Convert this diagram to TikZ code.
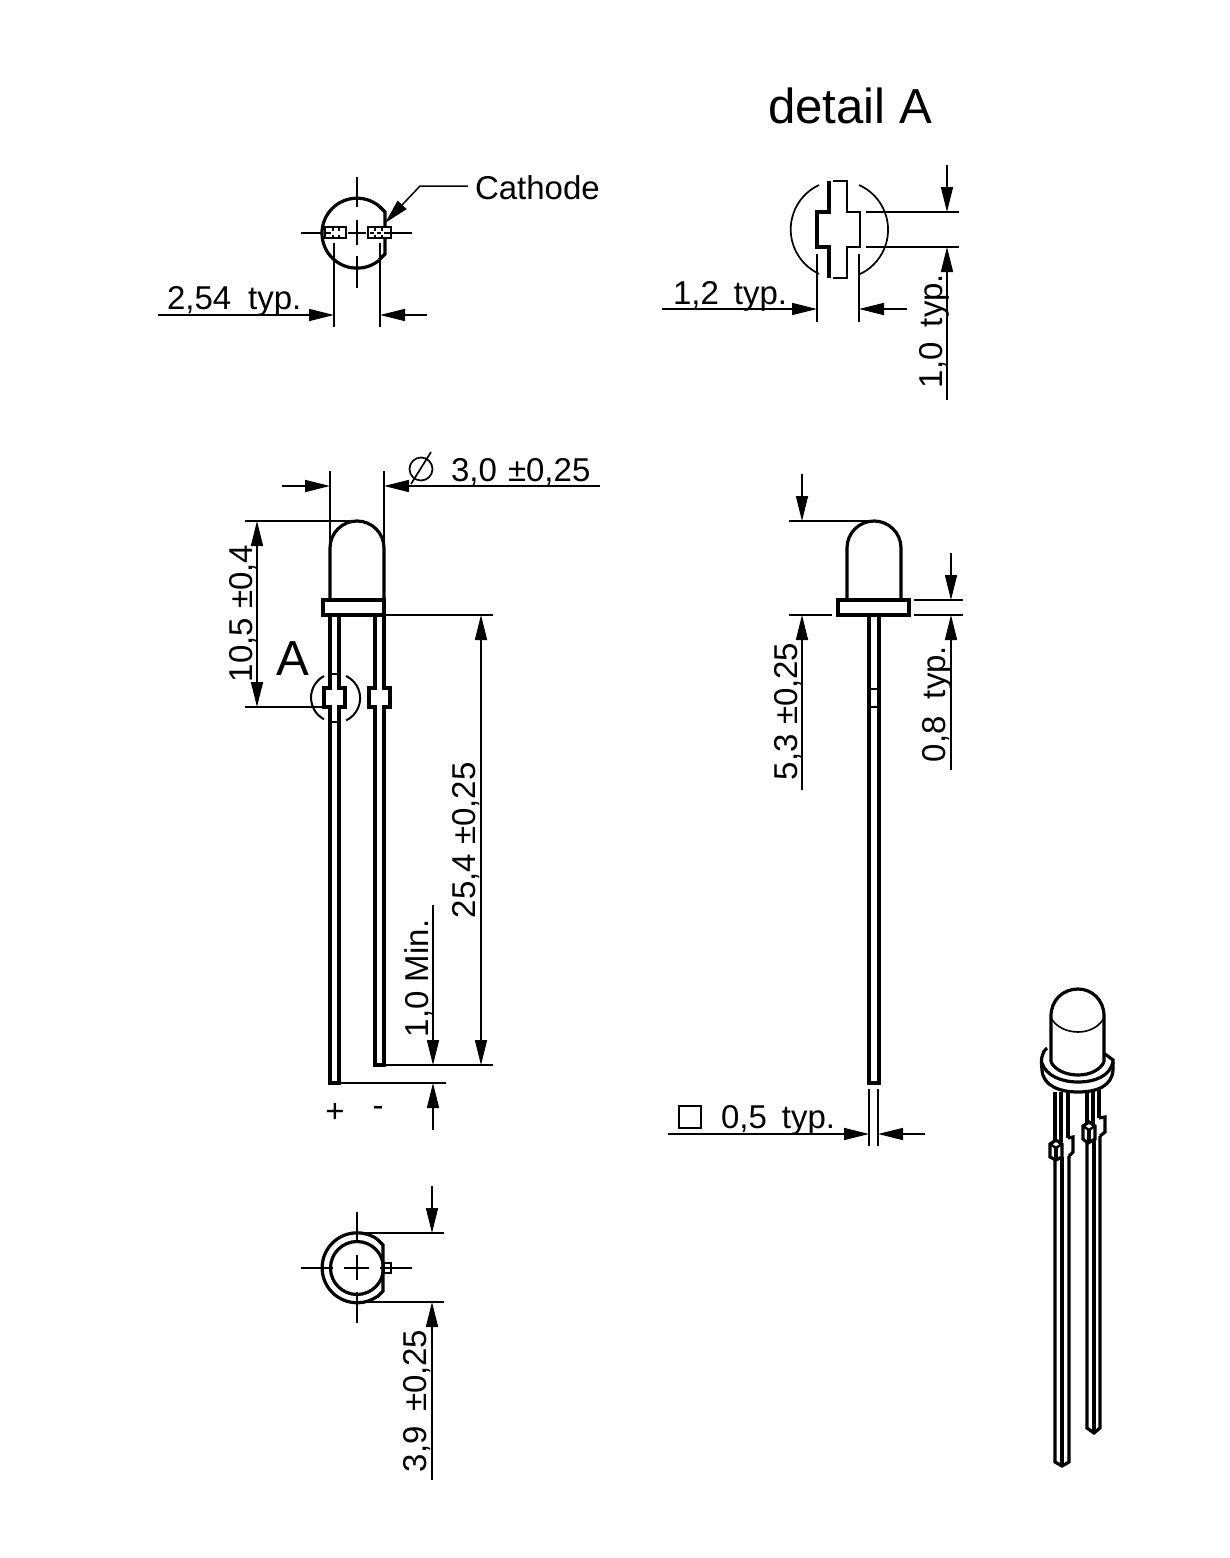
\documentclass[tikz,border=0pt]{standalone}
\usepackage{fontspec}
\setmainfont{Liberation Sans}
\usetikzlibrary{arrows.meta}
\tikzset{
  x=1pt,y=-1pt,
  thick line/.style={line width=3.2pt,line join=miter},
  medium line/.style={line width=2pt},
  dim line/.style={line width=1.5pt},
  dim arrow/.style={line width=1.5pt,-{Triangle[length=25pt,width=12pt]}},
  dim both/.style={line width=1.5pt,{Triangle[length=25pt,width=12pt]}-{Triangle[length=25pt,width=12pt]}},
  label text/.style={inner sep=0pt,outer sep=0pt,font=\fontsize{33}{33}\selectfont},
  big text/.style={inner sep=0pt,outer sep=0pt,font=\fontsize{49.2}{49.2}\selectfont},
  lab/.style={label text,anchor=base west},
  vlab/.style={label text,anchor=base west,rotate=90},
}
\begin{document}
\begin{tikzpicture}
\useasboundingbox (0,0) rectangle (1229,1558);
\fill[white] (0,0) rectangle (1229,1558);

% ---------- title
\node[big text,anchor=base west] (detailtitle) at (768,123) {detail A};

% ---------- top view (left)
\draw[thick line] (379,206) arc[start angle=-51,end angle=-309,radius=35];
\draw[thick line] (379,206) -- (385,212) -- (385,254) -- (379,260);
\foreach \a/\b in {177/207,220/245,256/288}{\draw[dim line] (357,\a) -- (357,\b);}
\foreach \a/\b in {301/323,348/366,392/412}{\draw[dim line] (\a,233) -- (\b,233);}
\draw[line width=2.6pt,fill=white] (325,227) rectangle (346,238);
\draw[line width=2.6pt,fill=white] (368,227) rectangle (391,238);
\foreach \a in {333,339,375,382}{\draw[line width=1.8pt] (\a,228) -- (\a,231) (\a,235) -- (\a,238);}
\draw[dim line] (326,233) -- (331,233) (370,233) -- (374,233) (377,233) -- (381,233) (384,233) -- (390,233);
\draw[dim line] (334,243) -- (334,327);
\draw[dim line] (380,243) -- (380,327);
\coordinate (a1) at (158,315); \coordinate (a2) at (334,315);
\coordinate (a3) at (427,315); \coordinate (a4) at (380,315);
\draw[dim arrow] (a1) -- (a2);
\draw[dim arrow] (a3) -- (a4);
\node[lab] (t254) at (167,309) {2,54\hspace{17pt}typ.};
\node[lab] (tcath) at (475,199) {Cathode};
\coordinate (c1) at (468,186); \coordinate (c2) at (420,186); \coordinate (c3) at (385,223);
\draw[dim arrow] (c1) -- (c2) -- (c3);

% ---------- detail A
\draw[line width=1.7pt] (819,185) arc[start angle=-115,end angle=-245,radius=49];
\draw[line width=1.7pt] (859,185) arc[start angle=-66,end angle=66,radius=49];
\draw[thick line] (829,181) -- (829,212) -- (817,212) -- (817,247) -- (829,247) -- (829,278);
\draw[line width=2.4pt] (833,181) -- (847,181) -- (847,212) -- (860,212) -- (860,247) -- (847,247) -- (847,278) -- (833,278);
\draw[dim line] (866,212) -- (959,212);
\draw[dim line] (866,247) -- (959,247);
\coordinate (b1) at (947,165); \coordinate (b2) at (947,212);
\coordinate (b3) at (947,400); \coordinate (b4) at (947,247);
\draw[dim arrow] (b1) -- (b2);
\draw[dim arrow] (b3) -- (b4);
\draw[dim line] (817,254) -- (817,322);
\draw[dim line] (859,254) -- (859,322);
\coordinate (b5) at (662,309); \coordinate (b6) at (817,309);
\coordinate (b7) at (907,309); \coordinate (b8) at (859,309);
\draw[dim arrow] (b5) -- (b6);
\draw[dim arrow] (b7) -- (b8);
\node[lab] (t12) at (673,304) {1,2\hspace{15pt}typ.};
\node[vlab] (t10) at (942,388) {1,0\hspace{15pt}typ.};

% ---------- front view LED
\draw[thick line] (330,600) -- (330,548) arc[start angle=180,end angle=360,radius=27] -- (384,600);
\draw[thick line] (323,600) rectangle (384,615);
\draw[thick line] (330,615) -- (330,688) -- (324,688) -- (324,707) -- (330,707) -- (330,1083) -- (339,1083) -- (339,707) -- (345,707) -- (345,688) -- (339,688) -- (339,615);
\draw[thick line] (375,615) -- (375,688) -- (369,688) -- (369,707) -- (375,707) -- (375,1065) -- (384,1065) -- (384,707) -- (390,707) -- (390,688) -- (384,688) -- (384,615);
\draw[line width=1.3pt] (331,674) -- (338,674) (331,722) -- (338,722);
\draw[medium line] (324,676) arc[start angle=-118,end angle=-242,radius=24.5];
\draw[medium line] (346,676) arc[start angle=-65,end angle=65,radius=24.5];
\draw[dim line] (330,471) -- (330,546);
\draw[dim line] (384,471) -- (384,600);
\coordinate (d1) at (282,486); \coordinate (d2) at (330,486);
\coordinate (d3) at (600,486); \coordinate (d4) at (384,486);
\draw[dim arrow] (d1) -- (d2);
\draw[dim arrow] (d3) -- (d4);
\draw[line width=1.7pt] (421,469) circle[radius=11.5];
\draw[line width=1.7pt] (411,484) -- (431,452);
\node[lab] (t30) at (451,481) {3,0 \hspace{2pt}±0,25};
\draw[dim line] (245,521) -- (350,521);
\draw[dim line] (245,707) -- (323,707);
\coordinate (d5) at (257,521); \coordinate (d6) at (257,707);
\draw[dim both] (d5) -- (d6);
\node[vlab] (t105) at (252,682) {10,5 ±0,4};
\node[big text,anchor=base west] (tA) at (276,675) {A};
\draw[dim line] (384,615) -- (493,615);
\draw[dim line] (384,1065) -- (493,1065);
\coordinate (d7) at (481,615); \coordinate (d8) at (481,1065);
\draw[dim both] (d7) -- (d8);
\node[vlab] (t254b) at (475,918) {25,4 ±0,25};
\node[vlab] (t1min) at (428,1037) {1,0 Min.};
\draw[dim line] (339,1083) -- (446,1083);
\coordinate (d9) at (433,905); \coordinate (d10) at (433,1065);
\coordinate (d11) at (433,1130); \coordinate (d12) at (433,1083);
\draw[dim arrow] (d9) -- (d10);
\draw[dim arrow] (d11) -- (d12);
\node[inner sep=0pt,font=\fontsize{33}{33}\selectfont] (tplus) at (335,1113) {+};
\node[inner sep=0pt,font=\fontsize{33}{33}\selectfont] (tminus) at (378,1111) {-};

% ---------- bottom view
\draw[thick line] (377,1239) arc[start angle=-55.4,end angle=-304.6,radius=35];
\draw[thick line] (377,1239) -- (383,1245) -- (383,1291) -- (377,1297);
\draw[thick line] (357,1268) circle[radius=26.5];
\draw[line width=2.6pt] (383,1263) rectangle (391,1273);
\foreach \a/\b in {1212/1240,1255/1280,1292/1323}{\draw[dim line] (357,\a) -- (357,\b);}
\foreach \a/\b in {301/333,344/369,380/412}{\draw[dim line] (\a,1268) -- (\b,1268);}
\draw[dim line] (357,1233) -- (444,1233);
\draw[dim line] (357,1302) -- (444,1302);
\coordinate (e1) at (432,1186); \coordinate (e2) at (432,1233);
\coordinate (e3) at (432,1480); \coordinate (e4) at (432,1302);
\draw[dim arrow] (e1) -- (e2);
\draw[dim arrow] (e3) -- (e4);
\node[vlab] (t39) at (426,1472) {3,9 \hspace{5pt}±0,25};

% ---------- side view LED
\draw[thick line] (847,600) -- (847,548) arc[start angle=180,end angle=360,radius=27] -- (901,600);
\draw[thick line] (838,600) rectangle (909,615);
\draw[thick line] (869,615) -- (869,1083) -- (879,1083) -- (879,615);
\draw[line width=2.8pt] (869,689) -- (879,689) (869,707) -- (879,707);
\draw[dim line] (789,521) -- (870,521);
\draw[dim line] (789,615) -- (832,615);
\coordinate (f1) at (802,474); \coordinate (f2) at (802,521);
\coordinate (f3) at (802,790); \coordinate (f4) at (802,615);
\draw[dim arrow] (f1) -- (f2);
\draw[dim arrow] (f3) -- (f4);
\node[vlab] (t53) at (797,780) {5,3 ±0,25};
\draw[dim line] (914,600) -- (963,600);
\draw[dim line] (914,615) -- (963,615);
\coordinate (f5) at (951,553); \coordinate (f6) at (951,600);
\coordinate (f7) at (951,770); \coordinate (f8) at (951,615);
\draw[dim arrow] (f5) -- (f6);
\draw[dim arrow] (f7) -- (f8);
\node[vlab] (t08) at (945,762) {0,8\hspace{17pt}typ.};
\draw[dim line] (869,1089) -- (869,1146);
\draw[dim line] (878,1089) -- (878,1146);
\coordinate (f9) at (668,1134); \coordinate (f10) at (869,1134);
\coordinate (f11) at (925,1134); \coordinate (f12) at (878,1134);
\draw[dim arrow] (f9) -- (f10);
\draw[dim arrow] (f11) -- (f12);
\draw[line width=1.7pt] (679,1106) rectangle (701,1128);
\node[lab] (t05) at (721,1128) {0,5\hspace{15pt}typ.};

% ---------- isometric view
\draw[thick line] (1055,1092) -- (1055,1142) (1061,1092) -- (1061,1142) (1068,1092) -- (1068,1138);
\draw[thick line] (1087,1090) -- (1087,1124) (1093,1090) -- (1093,1124) (1099,1090) -- (1099,1118);
\draw[thick line] (1050,1144) -- (1056,1140) -- (1062,1144) -- (1062,1157) -- (1056,1160) -- (1050,1157) -- cycle;
\draw[line width=2.4pt] (1050,1144) -- (1056,1148) -- (1062,1144);
\draw[thick line] (1056,1148) -- (1056,1160);
\draw[thick line] (1055,1160) -- (1055,1462) -- (1062,1466) -- (1069,1462) -- (1069,1156);
\draw[thick line] (1062,1157) -- (1062,1466);
\draw[thick line] (1068,1138) -- (1073,1137) -- (1073,1152) -- (1069,1156);
\draw[thick line] (1083,1126) -- (1089,1122) -- (1095,1126) -- (1095,1139) -- (1088,1143) -- (1083,1139) -- cycle;
\draw[line width=2.4pt] (1083,1126) -- (1089,1130) -- (1095,1126);
\draw[thick line] (1089,1130) -- (1089,1143);
\draw[thick line] (1087,1143) -- (1087,1428) -- (1094,1433) -- (1100,1428) -- (1100,1136);
\draw[thick line] (1094,1139) -- (1094,1433);
\draw[thick line] (1099,1118) -- (1105,1117) -- (1105,1132) -- (1100,1136);
% flange
\draw[thick line] (1047,1048) .. controls (1041,1053) and (1041,1060) .. (1042,1070) .. controls (1043,1086) and (1060,1092) .. (1078,1092) .. controls (1097,1092) and (1112,1086) .. (1113,1070) -- (1113,1060) -- (1105,1054);
\draw[thick line] (1042,1063) .. controls (1046,1076) and (1062,1082) .. (1078,1082) .. controls (1095,1082) and (1110,1076) .. (1113,1062);
% body
\draw[thick line] (1051,1062) -- (1051,1016) .. controls (1051,1000) and (1063,989) .. (1078,989) .. controls (1092,989) and (1104,1000) .. (1104,1016) -- (1104,1062);
\draw[thick line] (1051,1062) .. controls (1055,1070) and (1066,1075) .. (1078,1075) .. controls (1090,1075) and (1100,1070) .. (1104,1062);
\draw[line width=1.6pt] (1051,1018) .. controls (1056,1027) and (1067,1032) .. (1078,1032) .. controls (1089,1032) and (1099,1027) .. (1104,1018);
\end{tikzpicture}
\end{document}
